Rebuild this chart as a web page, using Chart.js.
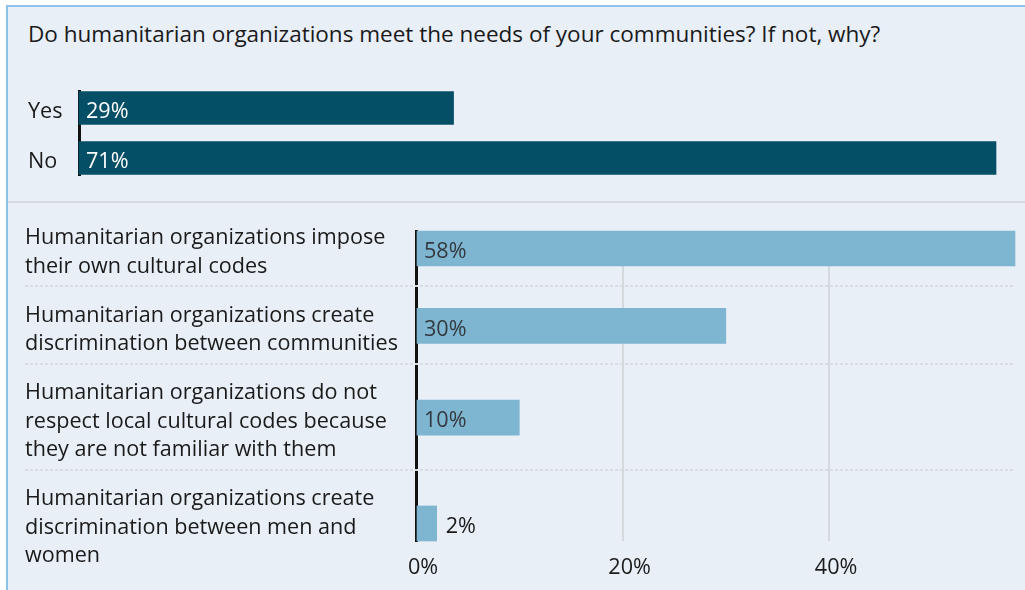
<!DOCTYPE html>
<html>
<head>
<meta charset="utf-8">
<script src="https://cdn.jsdelivr.net/npm/chart.js@4.4.1/dist/chart.umd.min.js"></script>
<style>
  body { margin: 0; background: #fff; font-family: "Open Sans", sans-serif; }
  #page { position: relative; width: 1025px; height: 590px; overflow: hidden; }
  #box { position: absolute; left: 6px; top: 5px; right: 0; bottom: 0; background: #e8eff7;
         border-left: 2px solid #8cc4e8; border-top: 2px solid #8cc4e8; }
  #title { position: absolute; left: 28px; top: 19px; font-size: 22.5px; line-height: 30px; color: #1a1a1a; white-space: nowrap; }
  #divider { position: absolute; left: 8px; right: 0; top: 201px; height: 2px; background: #d3d9dd; }
  .wrap { position: absolute; left: 0; width: 1025px; }
  #topWrap { top: 60px; height: 140px; }
  #bottomWrap { top: 204px; height: 386px; }
</style>
</head>
<body>
<div id="page">
  <div id="box"></div>
  <div id="title">Do humanitarian organizations meet the needs of your communities? If not, why?</div>
  <div id="divider"></div>
  <div class="wrap" id="topWrap"><canvas id="answers"></canvas></div>
  <div class="wrap" id="bottomWrap"><canvas id="reasons"></canvas></div>
</div>
<script>
const answers = ['Yes', 'No'];
const answerShares = [29, 71];

const reasons = [
  ['Humanitarian organizations impose', 'their own cultural codes'],
  ['Humanitarian organizations create', 'discrimination between communities'],
  ['Humanitarian organizations do not', 'respect local cultural codes because', 'they are not familiar with them'],
  ['Humanitarian organizations create', 'discrimination between men and', 'women']
];
const reasonShares = [58, 30, 10, 2];
const reasonTicks = [0, 20, 40];

const FONT = '"Open Sans", sans-serif';
const FONT_SIZE = 21.6;
const LINE_H = 28.5;
// row padding above / below a label block, in lines
const PAD_TOP = 0.39, PAD_BOTTOM = 0.32;

Chart.defaults.font.family = FONT;
Chart.defaults.font.size = FONT_SIZE;
Chart.defaults.color = '#1a1a1a';

// each row is as tall as its label block, bar sits on the block's middle
function rowLayout(labels) {
  let y = 0;
  const centers = [], edges = [];
  labels.forEach(l => {
    const n = Array.isArray(l) ? l.length : 1;
    centers.push(y + PAD_TOP + n / 2);
    y += PAD_TOP + n + PAD_BOTTOM;
    edges.push(y);
  });
  return { centers, edges };
}

const valueLabels = {
  id: 'valueLabels',
  afterDatasetsDraw(chart, args, o) {
    const ctx = chart.ctx;
    const meta = chart.getDatasetMeta(0);
    ctx.save();
    ctx.font = FONT_SIZE + 'px ' + FONT;
    ctx.textBaseline = 'middle';
    ctx.textAlign = 'left';
    meta.data.forEach((bar, i) => {
      const txt = chart.data.datasets[0].data[i].x + '%';
      const w = ctx.measureText(txt).width;
      const inside = bar.x - bar.base > w + 14;
      ctx.fillStyle = inside ? o.inside : o.outside;
      ctx.fillText(txt, inside ? bar.base + 7 : bar.x + 9, bar.y + 3.5);
    });
    ctx.restore();
  }
};

// dotted rules between the rows, running under the labels too
const rowRules = {
  id: 'rowRules',
  beforeDatasetsDraw(chart, args, o) {
    if (!o.edges) return;
    const { ctx, chartArea, scales: { y } } = chart;
    ctx.save();
    ctx.strokeStyle = '#d8dde1';
    ctx.lineWidth = 2;
    ctx.setLineDash([3, 2]);
    o.edges.forEach(v => {
      const py = Math.round(y.getPixelForValue(v));
      ctx.beginPath();
      ctx.moveTo(o.left, py);
      ctx.lineTo(chartArea.right, py);
      ctx.stroke();
    });
    ctx.restore();
  }
};

function barChart(id, labels, values, opts) {
  const rows = rowLayout(labels);
  const half = opts.thickness / 2 / LINE_H;
  return new Chart(document.getElementById(id), {
    type: 'bar',
    data: {
      datasets: [{
        data: values.map((v, i) => ({ x: v, y: rows.centers[i] })),
        backgroundColor: opts.color,
        barThickness: opts.thickness,
        borderWidth: 0,
        clip: false
      }]
    },
    options: {
      indexAxis: 'y',
      responsive: true,
      maintainAspectRatio: false,
      animation: false,
      layout: { padding: opts.padding },
      plugins: {
        legend: { display: false },
        tooltip: { enabled: false },
        valueLabels: opts.labels,
        rowRules: opts.rules ? { edges: rows.edges.slice(0, -1), left: opts.padding.left } : {}
      },
      scales: {
        x: Object.assign({
          type: 'linear',
          min: 0,
          max: Math.max(...values)
        }, opts.x),
        y: {
          type: 'linear',
          reverse: true,
          offset: false,
          min: rows.centers[0] - half,
          max: rows.centers[rows.centers.length - 1] + half,
          afterBuildTicks: s => { s.ticks = rows.centers.map(v => ({ value: v })); },
          // labels may hang over the plot edges, don't let them push it in
          afterFit: s => { s.width = opts.axisWidth; s.paddingTop = 0; s.paddingBottom = 0; },
          grid: { display: false, drawTicks: false, offset: false },
          border: { display: true, color: '#111', width: 3 },
          ticks: {
            autoSkip: false,
            crossAlign: 'far',
            padding: 0,
            labelOffset: 4,
            font: { size: FONT_SIZE, lineHeight: LINE_H / FONT_SIZE },
            callback: (v, i) => labels[i]
          }
        }
      }
    },
    plugins: [rowRules, valueLabels]
  });
}

barChart('answers', answers, answerShares, {
  color: '#054f66',
  thickness: 33,
  axisWidth: 51,
  padding: { top: 31, bottom: 25, left: 28, right: 29 },
  labels: { inside: '#ffffff', outside: '#1a1a1a' },
  x: { display: false }
});

barChart('reasons', reasons, reasonShares, {
  color: '#7eb6d2',
  thickness: 35,
  axisWidth: 391,
  rules: true,
  padding: { top: 27, bottom: 0, left: 25, right: 10 },
  labels: { inside: '#33393e', outside: '#1a1a1a' },
  x: {
    afterBuildTicks: s => { s.ticks = reasonTicks.map(v => ({ value: v })); },
    afterFit: s => { s.height = 49; },
    grid: {
      color: c => (c.tick && c.tick.value === 0) ? 'rgba(0,0,0,0)' : '#d3d9dd',
      lineWidth: 2,
      drawTicks: false
    },
    border: { display: false },
    ticks: { padding: 14, labelOffset: 7, maxRotation: 0, autoSkip: false, callback: v => v + '%' }
  }
});
</script>
</body>
</html>
